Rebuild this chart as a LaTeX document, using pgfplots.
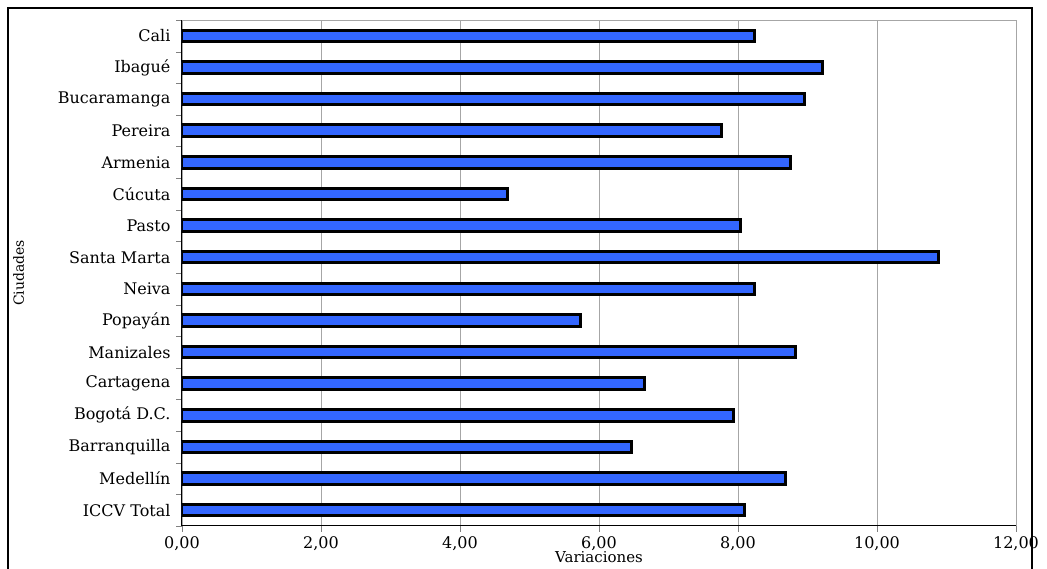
\documentclass[border=0pt]{standalone}
\usepackage{pgfplots}
\pgfplotsset{compat=1.18}
\usepackage{fontspec}
\setmainfont{DejaVu Serif}
\definecolor{barblue}{RGB}{51,102,255}
\begin{document}
\begin{tikzpicture}
\useasboundingbox (0pt,0pt) rectangle (1047pt,569pt);
\draw[line width=1.5pt] (8pt,-10pt) rectangle (1032pt,561pt);
\begin{axis}[at={(182pt,43pt)},anchor=south west,scale only axis,
 width=834pt,height=506pt,
 xbar, bar width=11.5pt,
 xmin=0,xmax=12, ymin=-0.5, ymax=15.5,
 xtick={0,2,...,12}, xticklabel style={/tikz/yshift=-1pt},
 xticklabel={\pgfmathprintnumber[fixed,fixed zerofill,precision=2,use comma,assume math mode=true]{\tick}},
 xmajorgrids, grid style={gray!70,line width=0.6pt},
 ytick={0,...,15}, major y tick style={draw=none},
 minor ytick={-0.5,0.5,...,15.5},
 yticklabels={ICCV Total,Medellín,Barranquilla,Bogotá D.C.,Cartagena,Manizales,Popayán,Neiva,Santa Marta,Pasto,Cúcuta,Armenia,Pereira,Bucaramanga,Ibagué,Cali},
 tick align=outside, tick pos=left, major tick length=6pt, minor tick length=6pt,
 axis line style={line width=1pt},
 axis x line*=bottom, axis y line*=left,
 tick label style={font=\fontsize{16}{18}\selectfont},
 yticklabel style={/tikz/xshift=-2pt},
 xlabel={Variaciones}, ylabel={Ciudades},
 label style={font=\fontsize{15}{17}\selectfont},
 xlabel style={at={(axis description cs:0.5,-0.05)},anchor=north,inner sep=0pt},
 ylabel style={at={(axis description cs:-0.196,0.5)},anchor=center,font=\fontsize{14}{16}\selectfont},
]
\addplot[fill=barblue,draw=black,line width=3pt] coordinates {
(8.10,0)(8.68,1)(6.47,2)(7.93,3)(6.66,4)(8.83,5)(5.73,6)(8.24,7)(10.88,8)(8.04,9)(4.69,10)(8.76,11)(7.76,12)(8.96,13)(9.22,14)(8.24,15)};
\draw[gray!70,line width=0.8pt] (axis cs:0,15.5) -- (axis cs:12,15.5) -- (axis cs:12,-0.5);
\end{axis}
\end{tikzpicture}
\end{document}
